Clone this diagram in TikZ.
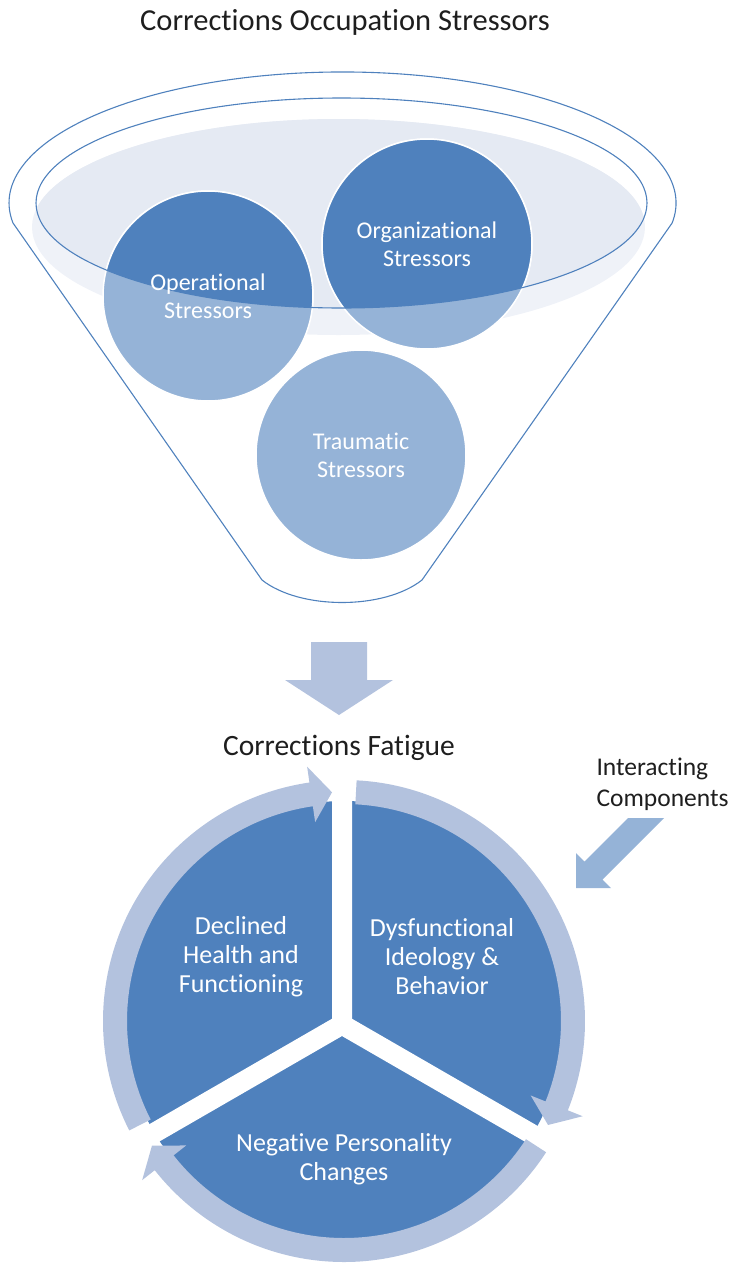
\documentclass[tikz,border=0pt]{standalone}
\usepackage{fontspec}
\setmainfont{Carlito}[Ligatures={NoCommon,NoContextual},RawFeature={-liga;-calt;-clig;-dlig}]
\usetikzlibrary{calc}
\definecolor{dblue}{HTML}{4F81BD}
\definecolor{lblue}{HTML}{95B3D7}
\definecolor{bandc}{HTML}{B3C2DE}
\definecolor{rimin}{HTML}{E5EAF3}
\definecolor{rimout}{HTML}{EFF2F8}
\definecolor{txtc}{HTML}{1E1E1E}
\begin{document}
\begin{tikzpicture}[x=1pt,y=-1pt,
  funline/.style={draw=dblue, line width=1.1pt},
  bubble/.style={circle, minimum size=210pt, inner sep=0pt, draw=white, line width=1.5pt},
  bubtext/.style={text=white, align=center, font=\fontsize{24}{28}\selectfont},
  wtext/.style={text=white, align=center, font=\fontsize{26}{29}\selectfont},
  headtext/.style={text=txtc, font=\fontsize{29.5}{35}\selectfont},
  sidetext/.style={text=txtc, align=left, anchor=west, font=\fontsize{25.5}{31}\selectfont}]
\useasboundingbox (0,0) rectangle (729,1264);

% ---- funnel rim fill
\fill[rimout] (338.5,227) ellipse[x radius=306.5, y radius=108];
\begin{scope}
  \clip (341.5,203) ellipse[x radius=305.5, y radius=105];
  \fill[rimin] (338.5,227) ellipse[x radius=306.5, y radius=108];
\end{scope}

% ---- stressor circles (light)
\node[bubble, fill=lblue] (op) at (208,296) {};
\node[bubble, fill=lblue] (org) at (427,244) {};
\node[bubble, fill=lblue] (trau) at (361,455) {};

% ---- darker part inside the rim
\begin{scope}
  \clip (341.5,203) ellipse[x radius=305.5, y radius=105];
  \foreach \c in {op,org} {
    \fill[dblue] (\c.center) circle[radius=105];
    \draw[white, line width=1.5pt] (\c.center) circle[radius=105];
  }
\end{scope}

% ---- funnel outlines
\draw[funline] (341.5,203) ellipse[x radius=305.5, y radius=105];
\draw[funline] (13,223) arc[start angle=171.2, end angle=368.8, x radius=333.5, y radius=131]
  -- (422,580) .. controls (384,610) and (300,610) .. (262,580) -- cycle;

% ---- circle texts
\node[bubtext] (optext) at (op.center) {Operational\\Stressors};
\node[bubtext] (orgtext) at (org.center) {Organizational\\Stressors};
\node[bubtext] (trautext) at (trau.center) {Traumatic\\Stressors};

% ---- title
\node[headtext, font=\fontsize{30.5}{36}\selectfont] (title) at (345,22) {Corrections Occupation Stressors};

% ---- down arrow
\fill[bandc] (311,642) -- (367,642) -- (367,680) -- (393,680) -- (339,715) -- (285,680) -- (311,680) -- cycle;

\node[headtext] (fatigue) at (339,748) {Corrections Fatigue};

% ---- interacting components
\node[sidetext] (inter) at (593,784) {Interacting\\Components};
\fill[lblue] (628,818) -- (664,818) -- (602.5,879.5) -- (611,888) -- (576,888) -- (576,853) -- (584.5,861.5) -- cycle;

% ---- cycle wedges
\coordinate (O) at (344,1021);
\coordinate (J) at (342,1024.5);
\fill[dblue] (O) circle[radius=220];
\begin{scope}[shift={(J)}]
  \fill[white] (-30:11.547) -- ($(30:240)+(-60:10)$) -- ($(30:240)+(120:10)$)
    -- (90:11.547) -- ($(150:240)+(60:10)$) -- ($(150:240)+(240:10)$)
    -- (210:11.547) -- ($(-90:232)+(180:10)$) -- ($(-90:232)+(0:10)$) -- cycle;
\end{scope}

% ---- circular arrows
\begin{scope}[shift={(O)}]
  \foreach \g in {-90,30,150} {
    \pgfmathsetmacro{\aa}{\g+3}
    \pgfmathsetmacro{\ab}{\g+111.75}
    \pgfmathsetmacro{\at}{\g+117}
    \fill[bandc] (\aa:241) arc[start angle=\aa, end angle=\ab, radius=241]
      -- (\ab:257) -- (\at:229) -- (\ab:201) -- (\ab:217)
      arc[start angle=\ab, end angle=\aa, radius=217] -- cycle;
  }
\end{scope}

% ---- wedge texts
\node[wtext] (declined) at (241,957) {Declined\\Health and\\Functioning};
\node[wtext] (dysf) at (442,957) {Dysfunctional\\Ideology \&\\Behavior};
\node[wtext] (neg) at (344,1159) {Negative Personality\\Changes};
\end{tikzpicture}
\end{document}
